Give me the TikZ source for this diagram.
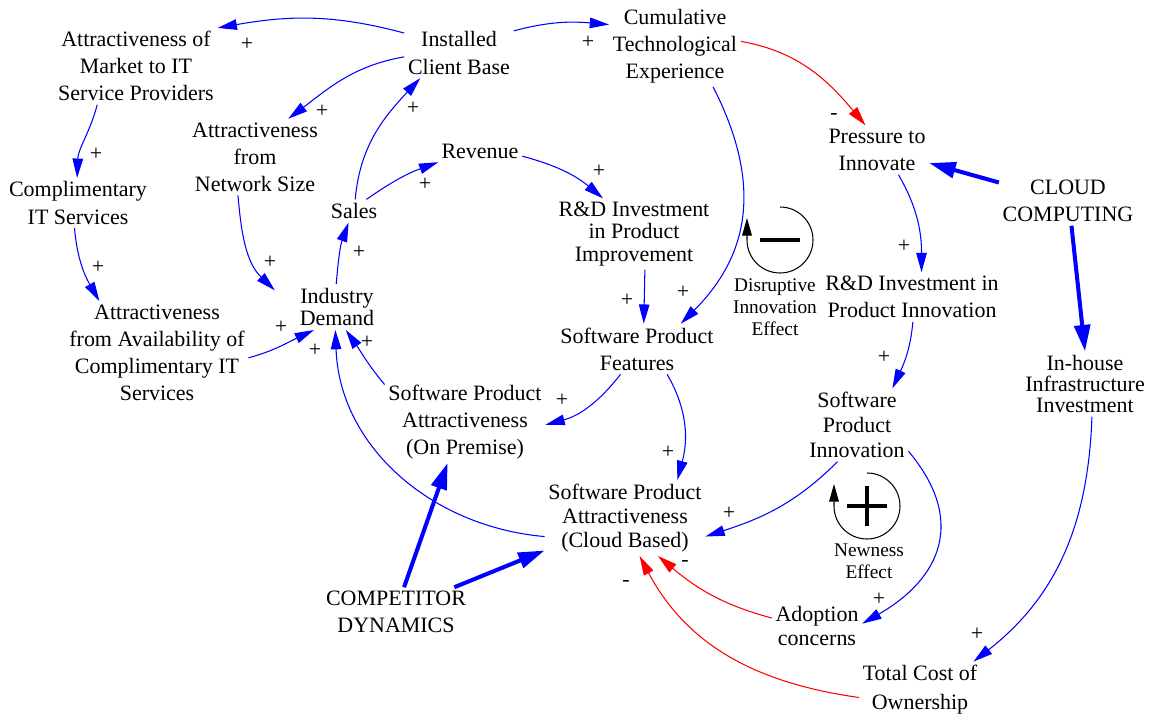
\documentclass[tikz,border=0pt]{standalone}
\usepackage{fontspec}
\setmainfont{Liberation Serif}
\usetikzlibrary{arrows.meta}

\tikzset{
  var/.style={align=center, inner sep=2pt, font=\fontsize{12.5}{15.4}\selectfont},
  lines/.style={font=\fontsize{12.5}{#1}\selectfont},
  looplabel/.style={align=center, inner sep=1pt, font=\fontsize{11}{12.5}\selectfont},
  pol/.style={inner sep=0pt, font=\fontsize{12.5}{14}\selectfont},
  link/.style={blue, line width=0.6pt, -{Triangle[length=11pt,width=6pt]}},
  neglink/.style={red, line width=0.6pt, -{Triangle[length=11pt,width=6pt]}},
  biglink/.style={blue, line width=2.3pt, -{Triangle[length=15pt,width=9pt]}},
  loopring/.style={black, line width=0.6pt, -{Triangle[length=10pt,width=5.5pt]}},
  loopsign/.style={black, line width=1.8pt}
}

\begin{document}
\begin{tikzpicture}[x=0.02cm,y=-0.02cm]
\useasboundingbox (0,0) rectangle (1150,716);

% variables
\node[var] (mkt) at (136,66) {Attractiveness of\\Market to IT\\Service Providers};
\node[var] (icb) at (459,53) {Installed\\Client Base};
\node[var] (cte) at (675,46) {Cumulative\\Technological\\Experience};
\node[var] (pti) at (877,150) {Pressure to\\Innovate};
\node[var] (cc) at (1068,201) {CLOUD\\COMPUTING};
\node[var] (ans) at (255,157) {Attractiveness\\from\\Network Size};
\node[var] (rev) at (480,151) {Revenue};
\node[var] (sal) at (354,211) {Sales};
\node[var, lines=12.6pt] (rdi) at (634,234) {R\&D Investment\\in Product\\Improvement};
\node[var] (cit) at (78,203) {Complimentary\\IT Services};
\node[var, lines=13pt, inner xsep=14pt] (idm) at (337,307) {Industry\\Demand};
\node[var] (rdn) at (912,297) {R\&D Investment in\\Product Innovation};
\node[var] (spf) at (637,349) {Software Product\\Features};
\node[var] (aac) at (157,353) {Attractiveness\\from Availability of\\Complimentary IT\\Services};
\node[var, lines=12pt] (iii) at (1085,384) {In-house\\Infrastructure\\Investment};
\node[var] (spo) at (465,422) {Software Product\\Attractiveness\\(On Premise)};
\node[var, lines=14.2pt] (spn) at (857,425) {Software\\Product\\Innovation};
\node[var, lines=13.7pt] (spc) at (625,518) {Software Product\\Attractiveness\\(Cloud Based)};
\node[var] (cd) at (396,612) {COMPETITOR\\DYNAMICS};
\node[var, lines=13.7pt] (adc) at (817,626) {Adoption\\concerns};
\node[var, lines=16.5pt] (tco) at (920,690) {Total Cost of\\Ownership};

% loop markers
\coordinate (dloop) at (780,240);
\draw[loopring] (dloop) ++(0,-33) arc[start angle=-90, end angle=180, radius=33] -- ++(0,-22);
\draw[loopsign] (dloop) ++(-20,0) -- ++(40,0);
\node[looplabel] (dlab) at (775,307) {Disruptive\\Innovation\\Effect};

\coordinate (nloop) at (867,506);
\draw[loopring] (nloop) ++(0,-33) arc[start angle=-90, end angle=180, radius=33] -- ++(0,-22);
\draw[loopsign] (nloop) ++(-20,0) -- ++(40,0);
\draw[loopsign] (nloop) ++(0,-20) -- ++(0,40);
\node[looplabel] (nlab) at (869,561) {Newness\\Effect};

% links
\draw[link] (icb.160) to[out=165,in=10] (mkt.25);
\node[pol] (p1) at (247,44) {+};

\draw[link] (icb.184) to[out=190,in=37] (ans.49);
\node[pol] (p2) at (322,111) {+};

\draw[link] (icb.22) to[out=15,in=175] (cte.162);
\node[pol] (p3) at (588,42) {+};

\draw[neglink] (cte.4) to[out=-10,in=130] (pti.115);
\node[pol] (p4) at (834,117) {-};

\draw[link] (mkt.225) to[out=255,in=88] (cit.92);
\node[pol] (p5) at (96,154) {+};

\draw[link] (cit.262) to[out=-85,in=120] (aac.138);
\node[pol] (p6) at (98,267) {+};

\draw[link] (ans.246) to[out=-85,in=136] (idm.165);
\node[pol] (p7) at (270,262) {+};

\draw[link] (aac.-3) to[out=15,in=205] (idm.225);
\node[pol] (p8) at (281,327) {+};

\draw[link] (sal.84) to[out=85,in=227] (icb.213);
\node[pol] (p9) at (413,108) {+};

\draw[link] (sal.43) to[out=35,in=200] (rev.195);
\node[pol] (p10) at (425,184) {+};

\draw[link] (rev.-7) to[out=-15,in=140] (rdi.131);
\node[pol] (p11) at (599,171) {+};

\draw[link] (idm.92) to[out=85,in=250] (sal.245);
\node[pol] (p12) at (359,252) {+};

\draw[link] (cte.-47) to[out=-63,in=45,looseness=1.1] (spf.30);
\node[pol] (p13) at (683,292) {+};

\draw[link] (rdi.287) -- (spf.75);
\node[pol] (p14) at (627,300) {+};

\draw[link] (spf.237) to[out=232,in=15] (spo.-2);
\node[pol] (p15) at (562,400) {+};

\draw[link] (spf.-40) to[out=-60,in=75] (spc.36);
\node[pol] (p16) at (668,452) {+};

\draw[link] (spo.155) to[out=130,in=-55] (idm.291);
\node[pol] (p17) at (367,342) {+};

\draw[link] (spc.193) to[out=175,in=-88] (idm.266);
\node[pol] (p18) at (315,350) {+};

\draw[link] (pti.-49) to[out=-60,in=90] (rdn.69);
\node[pol] (p19) at (904,246) {+};

\draw[biglink] (cc.165) -- (pti.-14);

\draw[biglink] (cc.-82) -- (iii.90);

\draw[link] (rdn.-88) to[out=-95,in=65] (spn.46);
\node[pol] (p22) at (884,357) {+};

\draw[link] (spn.242) to[out=225,in=18] (spc.-13);
\node[pol] (p23) at (729,513) {+};

\draw[link] (spn.-27) to[out=-50,in=30,looseness=1.3] (adc.3);
\node[pol] (p24) at (879,599) {+};

\draw[link] (iii.-78) to[out=-92,in=38] (tco.28);
\node[pol] (p25) at (977,634) {+};

\draw[neglink] (adc.170) to[out=165,in=-40] (spc.-49);
\node[pol] (p26) at (685,564) {-};

\draw[neglink] (tco.187) to[out=172,in=-62] (spc.-69);
\node[pol] (p27) at (626,584) {-};

\draw[biglink] (cd.72) -- (spo.247);

\draw[biglink] (cd.23) -- (spc.202);

\end{tikzpicture}
\end{document}
